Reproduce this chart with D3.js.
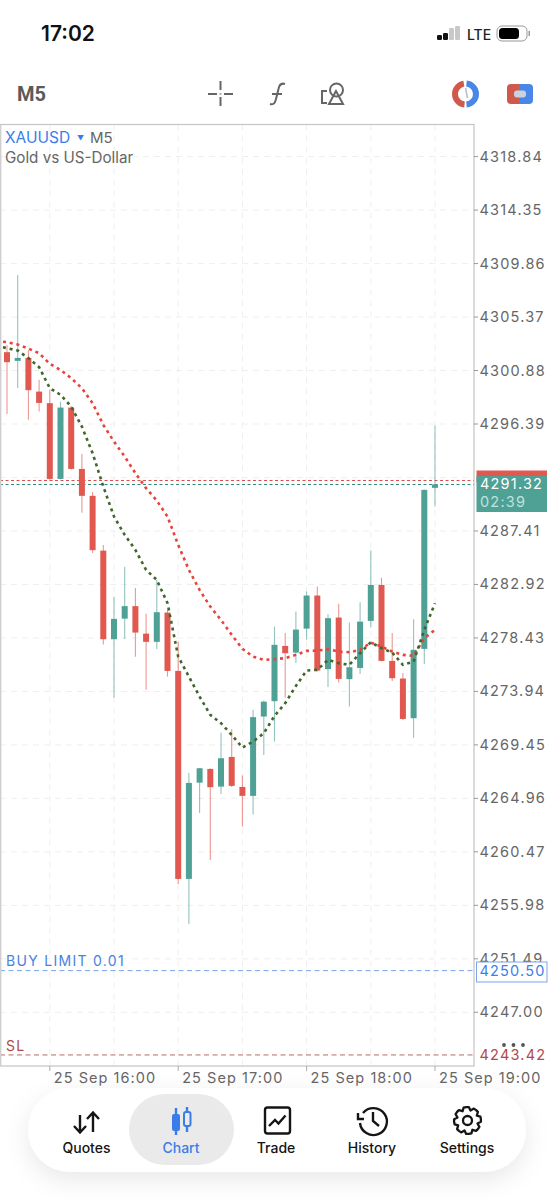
<!DOCTYPE html>
<html><head><meta charset="utf-8">
<script src="https://cdnjs.cloudflare.com/ajax/libs/d3/7.8.5/d3.min.js"></script>
<style>html,body{margin:0;padding:0;background:#fff}svg{display:block}text{font-family:Inter,Roboto,"Liberation Sans",sans-serif}</style>
</head><body><svg id="c" width="554" height="1199"></svg>
<script>
const symbol="XAUUSD", timeframe="M5", description="Gold vs US-Dollar";
const startTime="2025-09-25T15:40:00", stepMinutes=5;
const open =[4302.42,4301.69,4301.94,4299.11,4298.14,4291.78,4297.77,4292.62,4290.36,4285.76,4278.32,4280.05,4281.10,4278.79,4278.10,4280.56,4275.66,4258.20,4266.28,4267.43,4265.95,4268.44,4265.92,4265.17,4271.83,4273.12,4277.76,4277.20,4279.21,4281.99,4275.81,4280.14,4274.97,4275.91,4279.86,4282.88,4276.50,4275.02,4271.69,4277.51,4291.03];
const high =[4303.03,4308.91,4302.61,4300.10,4299.26,4298.27,4297.91,4293.88,4290.69,4286.24,4281.88,4284.39,4282.63,4280.47,4283.30,4280.78,4278.12,4267.10,4267.52,4267.48,4270.46,4270.79,4266.87,4272.39,4273.17,4279.38,4278.85,4280.64,4282.32,4282.74,4280.42,4281.29,4279.72,4281.43,4285.76,4283.47,4278.85,4275.49,4280.00,4290.89,4296.26];
const low  =[4297.24,4299.42,4296.74,4297.43,4291.70,4291.74,4292.54,4288.93,4285.57,4277.87,4273.40,4278.35,4276.84,4274.07,4277.51,4275.18,4257.78,4254.42,4263.74,4259.79,4265.33,4265.92,4262.59,4263.60,4268.61,4269.73,4273.40,4276.33,4278.27,4275.62,4274.32,4274.68,4272.67,4275.41,4279.30,4276.46,4274.82,4271.55,4270.06,4276.25,4289.46];
const close=[4301.58,4301.94,4299.23,4298.16,4291.78,4297.77,4292.62,4290.36,4285.80,4278.32,4280.03,4281.10,4278.88,4278.10,4280.59,4275.66,4258.20,4266.26,4267.49,4265.90,4268.33,4266.01,4265.17,4271.78,4273.08,4277.85,4277.15,4279.13,4281.99,4275.69,4280.09,4274.99,4275.97,4279.80,4282.88,4276.50,4275.05,4271.63,4277.43,4290.86,4291.32];
const maSlow=[4303.37,4303.26,4303.06,4302.72,4302.34,4301.44,4300.93,4300.24,4299.40,4298.14,4296.32,4294.91,4293.66,4292.26,4291.00,4289.96,4288.62,4286.24,4284.14,4282.46,4281.06,4279.94,4278.69,4277.51,4276.86,4276.59,4276.65,4276.73,4277.01,4277.34,4277.37,4277.48,4277.28,4277.23,4277.43,4278.04,4277.70,4277.28,4277.01,4276.92,4278.41,4279.11];
const maFast=[4302.95,4302.76,4302.56,4301.92,4301.16,4299.40,4298.84,4297.85,4296.17,4293.94,4291.14,4288.62,4287.08,4285.82,4284.14,4283.30,4281.35,4276.86,4275.18,4273.51,4271.97,4271.27,4270.29,4269.22,4269.73,4270.43,4271.88,4272.95,4274.40,4275.69,4275.75,4276.59,4276.31,4276.17,4277.15,4278.07,4277.57,4277.20,4276.17,4276.44,4279.11,4281.35];
const priceTicks=[4318.84,4314.35,4309.86,4305.37,4300.88,4296.39,4291.90,4287.41,4282.92,4278.43,4273.94,4269.45,4264.96,4260.47,4255.98,4251.49,4247.00];
const hiddenUnderBadge=[4291.90];
const timeLabels=["25 Sep 16:00","25 Sep 17:00","25 Sep 18:00","25 Sep 19:00"];
const bid=4291.72, ask=4291.32, countdown="02:39";
const buyLimit=4250.50, buyLimitLabel="BUY LIMIT 0.01", stopLoss=4243.42, stopLossLabel="SL";
const navLabels=["Quotes","Chart","Trade","History","Settings"];

const RED="#e0584f",GREEN="#4fa095",BLUE="#3b7de8";
const svg=d3.select("#c");
const t0=new Date(startTime);
const timeAt=i=>new Date(+t0+i*stepMinutes*60000);
const x=d3.scaleTime().domain([timeAt(0),timeAt(40)]).range([7,435]);
const y=d3.scaleLinear().domain([4247,4318.84]).range([1012.3,156.6]);
const F={l:0,r:474,t:124.5,b:1066};

const defs=svg.append("defs");
defs.append("clipPath").attr("id","plot").append("rect").attr("x",F.l+1).attr("y",F.t).attr("width",F.r-1).attr("height",F.b-F.t);
const sh=defs.append("filter").attr("id","sh").attr("x","-10%").attr("y","-40%").attr("width","120%").attr("height","190%");
sh.append("feDropShadow").attr("dx",0).attr("dy",8).attr("stdDeviation",12).attr("flood-color","#000").attr("flood-opacity",0.09);

// grid
const g=svg.append("g").attr("clip-path","url(#plot)");
g.selectAll(".h").data(priceTicks).join("line").attr("x1",0).attr("x2",F.r).attr("y1",d=>y(d)).attr("y2",d=>y(d)).attr("stroke","#efefef").attr("stroke-dasharray","6 5");
const half=d3.timeMinute.every(30).range(timeAt(0),timeAt(41));
g.selectAll(".v").data(half).join("line").attr("x1",d=>x(d)).attr("x2",d=>x(d)).attr("y1",F.t).attr("y2",F.b).attr("stroke","#efefef").attr("stroke-dasharray","6 5");

// price lines
const pl=[[bid,"#dd4f4a"],[ask,"#2f8a7e"]];
g.selectAll(".pl").data(pl).join("line").attr("x1",0).attr("x2",F.r).attr("y1",d=>Math.round(y(d[0]))+.5).attr("y2",d=>Math.round(y(d[0]))+.5).attr("stroke",d=>d[1]).attr("stroke-dasharray","3 2.5").attr("stroke-width",1);

// candles
const idx=d3.range(open.length);
const col=i=>close[i]>=open[i]?GREEN:RED;
g.selectAll(".w").data(idx).join("line").attr("x1",i=>x(timeAt(i))).attr("x2",i=>x(timeAt(i))).attr("y1",i=>y(high[i])).attr("y2",i=>y(low[i])).attr("stroke",col).attr("stroke-width",1.1).attr("opacity",.62);
g.selectAll(".b").data(idx).join("rect").attr("x",i=>x(timeAt(i))-3).attr("width",6).attr("y",i=>y(Math.max(open[i],close[i]))).attr("height",i=>Math.max(1.5,Math.abs(y(open[i])-y(close[i])))).attr("fill",col);

// moving averages
const ln=d3.line().x((d,i)=>x(timeAt(i-1))).y(d=>y(d));
g.append("path").attr("d",ln(maSlow)).attr("fill","none").attr("stroke","#e8433a").attr("stroke-width",2.6).attr("stroke-dasharray","3 3.8");
g.append("path").attr("d",ln(maFast)).attr("fill","none").attr("stroke","#41662c").attr("stroke-width",2.6).attr("stroke-dasharray","3 3.8");

// order lines
g.append("line").attr("x1",0).attr("x2",F.r).attr("y1",y(buyLimit)).attr("y2",y(buyLimit)).attr("stroke","#7ba4ea").attr("stroke-dasharray","5 3.5");
g.append("line").attr("x1",0).attr("x2",F.r).attr("y1",y(stopLoss)).attr("y2",y(stopLoss)).attr("stroke","#b86a68").attr("stroke-dasharray","5 3.5");
const lab=(s,xx,yy,fs,c,o={})=>svg.append("text").attr("x",xx).attr("y",yy).attr("font-size",fs).attr("fill",c).attr("letter-spacing",o.ls||0).attr("font-weight",o.w||400).attr("text-anchor",o.a||"start").text(s);
lab(buyLimitLabel,6,y(buyLimit)-4.5,14,"#4a82e0",{ls:1.3});
lab(stopLossLabel,6,y(stopLoss)-4,14,"#b04a4a",{ls:1.3});

// frame
svg.append("rect").attr("x",-1).attr("y",F.t).attr("width",F.r+1).attr("height",F.b-F.t).attr("fill","none").attr("stroke","#c4c4c4").attr("stroke-width",1.2);
svg.append("line").attr("x1",.7).attr("x2",.7).attr("y1",F.t).attr("y2",F.b).attr("stroke","#cfcfcf").attr("stroke-width",1.4);

// y axis
const ticks=priceTicks.filter(d=>!hiddenUnderBadge.includes(d));
svg.append("g").selectAll("line").data(ticks).join("line").attr("x1",F.r).attr("x2",F.r+4).attr("y1",d=>y(d)).attr("y2",d=>y(d)).attr("stroke","#999");
svg.append("g").selectAll("text").data(ticks).join("text").attr("x",479.5).attr("y",d=>y(d)+5).attr("font-size",14.5).attr("letter-spacing",1.2).attr("fill","#666").text(d=>d.toFixed(2));

// price badges
svg.append("rect").attr("x",476.5).attr("y",470.5).attr("width",70.5).attr("height",12).attr("fill",RED);
svg.append("rect").attr("x",476.5).attr("y",476).attr("width",70.5).attr("height",36).attr("fill",GREEN);
lab(ask.toFixed(2),480,y(ask)+5,14.5,"#fff",{ls:1.2});
lab(countdown,480,507,14.5,"#bfe3dd",{ls:1.2});
svg.append("rect").attr("x",476.5).attr("y",962).attr("width",70.5).attr("height",20).attr("fill","#fff").attr("stroke","#7ba4ea");
lab(buyLimit.toFixed(2),479.5,y(buyLimit)+5.5,14.5,"#3f7fe6",{ls:1.2});
lab(stopLoss.toFixed(2),479.5,y(stopLoss)+5.5,14.5,"#b04a4a",{ls:1.2});
svg.append("g").selectAll("circle").data([504,513.5,523]).join("circle").attr("cx",d=>d).attr("cy",1045).attr("r",1.9).attr("fill","#555");

// x axis
const hours=d3.timeHour.every(1).range(timeAt(0),timeAt(41));
svg.append("g").selectAll("line").data(hours).join("line").attr("x1",d=>x(d)).attr("x2",d=>x(d)).attr("y1",F.b).attr("y2",F.b+5).attr("stroke","#aaa");
svg.append("g").selectAll("text").data(hours).join("text").attr("x",d=>x(d)+4).attr("y",1083).attr("font-size",14.5).attr("letter-spacing",1.05).attr("fill","#666").text((d,i)=>timeLabels[i]);

// title
lab(symbol,5,143,15.500,BLUE);
lab("▼",77,141,7,BLUE);
lab(timeframe,90,143,15,"#666");
lab(description,5,163,15.200,"#666");

// status bar
lab("17:02",41,41,21,"#111",{w:600});
[[437,5],[443,7],[449,12],[455,14]].forEach((b,i)=>svg.append("rect").attr("x",b[0]).attr("y",40-b[1]).attr("width",5).attr("height",b[1]).attr("rx",1.3).attr("fill",i<2?"#111":"#c8c8c8"));
lab("LTE",467,39.500,14,"#222",{w:500});
svg.append("rect").attr("x",497).attr("y",26).attr("width",30).attr("height",15).attr("rx",5).attr("fill","none").attr("stroke","#999");
svg.append("rect").attr("x",499).attr("y",28).attr("width",20).attr("height",11).attr("rx",3.5).attr("fill","#000");
svg.append("rect").attr("x",528.5).attr("y",31).attr("width",1.5).attr("height",5).attr("fill","#999");

// toolbar
lab(timeframe,17,101,20,"#5a5a5a",{w:700}).style("font-family","Roboto");
const I=svg.append("g").attr("fill","none").attr("stroke","#666").attr("stroke-width",2);
I.append("path").attr("d","M208 94h9M224 94h9M220.500 81v9M220.500 97v9M220.500 93.500v1");
I.append("path").attr("d","M270 104c4 1 5-1 6-5l3-12c1-3 3-4 6-3M272 94h10");
I.append("path").attr("d","M327 91h-5v12h5");
I.append("circle").attr("cx",336.500).attr("cy",90).attr("r",6.500);
I.append("path").attr("d","M336 91l-7 13h14z");
const arc=d3.arc().innerRadius(7.5).outerRadius(13.5);
const cl=svg.append("g").attr("transform","translate(465.5,94)");
cl.append("path").attr("d",arc({startAngle:Math.PI*1.03,endAngle:Math.PI*1.95})).attr("fill","#cf5a4c");
cl.append("path").attr("d",arc({startAngle:Math.PI*.03,endAngle:Math.PI*.97})).attr("fill","#4a86e8");
cl.append("path").attr("d","M0-6L2 4").attr("stroke","#b8c0cc").attr("stroke-width",1.6);
svg.append("path").attr("d","M511 84h8v20h-8a4 4 0 0 1-4-4v-12a4 4 0 0 1 4-4z").attr("fill","#cf5a4c");
svg.append("path").attr("d","M519 84h10a4 4 0 0 1 4 4v12a4 4 0 0 1-4 4h-10z").attr("fill","#4a86e8");
svg.append("rect").attr("x",514).attr("y",90.500).attr("width",12).attr("height",7).attr("rx",3).attr("fill","#c9d3dc");

// bottom nav
svg.append("rect").attr("x",28).attr("y",1088).attr("width",498).attr("height",84).attr("rx",42).attr("fill","#fff").attr("filter","url(#sh)");
svg.append("rect").attr("x",129).attr("y",1094).attr("width",105).attr("height",71).attr("rx",35.500).attr("fill","#eaeaea");
const navX=[86.500,181,276,372,467];
navLabels.forEach((s,i)=>lab(s,navX[i],1153,14,i==1?"#3b7de8":"#151515",{a:"middle",w:500}));
const N=svg.append("g").attr("fill","none").attr("stroke","#151515").attr("stroke-width",2.4);
N.append("path").attr("d","M80 1115v17M74 1126l6 6.500 6-6.500M93 1132v-19M87 1119l6-6.500 6 6.500");
const cg=svg.append("g");
cg.append("rect").attr("x",172).attr("y",1114).attr("width",8).attr("height",17).attr("rx",2).attr("fill",BLUE);
cg.append("path").attr("d","M176 1108v27M187 1107v25").attr("stroke",BLUE).attr("stroke-width",2.400);
cg.append("rect").attr("x",184).attr("y",1112).attr("width",6.500).attr("height",14).attr("rx",2).attr("fill","#eaeaea").attr("stroke",BLUE).attr("stroke-width",2);
N.append("rect").attr("x",265).attr("y",1107.500).attr("width",25).attr("height",26).attr("rx",2.500);
N.append("path").attr("d","M269 1126l6-6 3.500 3.500 7-8");
N.append("path").attr("d","M360 1123a13.500 13.500 0 1 0 3-10M358 1113v6h6M373 1112v9l6 5");
const gear=svg.append("g").attr("transform","translate(467.5,1120.5)");
gear.append("path").attr("d",d3.range(32).map(i=>{const a=(i-1.5)*Math.PI/16,r=[13.5,13.5,13.5,10.5][i%4];return (i?"L":"M")+(r*Math.cos(a)).toFixed(1)+" "+(r*Math.sin(a)).toFixed(1)}).join("")+"Z").attr("fill","none").attr("stroke","#151515").attr("stroke-width",2.300).attr("stroke-linejoin","round");
gear.append("circle").attr("r",4.500).attr("fill","none").attr("stroke","#151515").attr("stroke-width",2.300);
</script></body></html>
